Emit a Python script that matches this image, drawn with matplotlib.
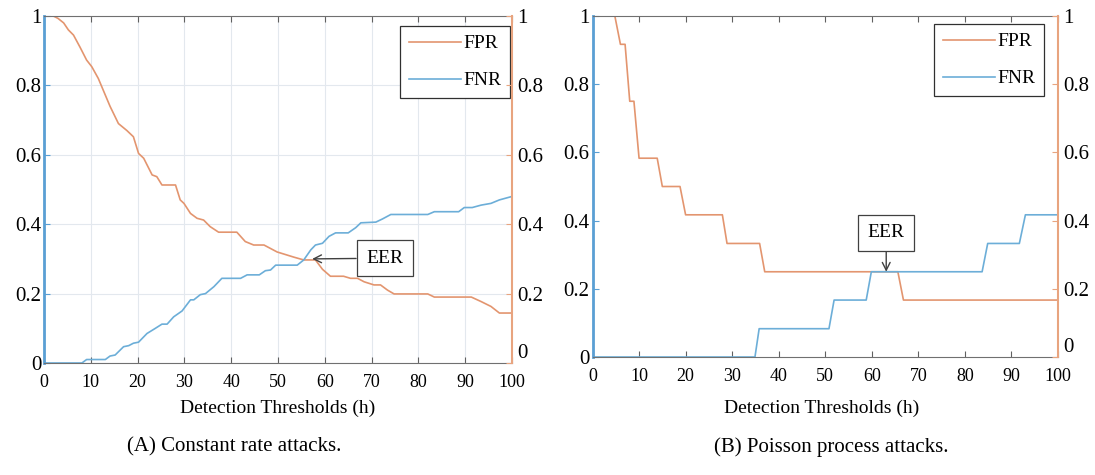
import matplotlib
matplotlib.use("Agg")
import matplotlib.pyplot as plt

plt.rcParams['font.family'] = ['Liberation Serif', 'DejaVu Serif']

# ---- data ----
thresholds_ticks = [0, 10, 20, 30, 40, 50, 60, 70, 80, 90, 100]
rate_ticks = [0, 0.2, 0.4, 0.6, 0.8, 1]
rate_labels = ['0', '0.2', '0.4', '0.6', '0.8', '1']

# (A) constant rate attacks
fpr_a_x = [0, 2, 3, 4.2, 5.2, 6.3, 7.7, 9.1, 10.2, 11.6,
           14.1, 15.9, 17.7, 19.1, 20.2, 21.3, 23.1, 24.1, 25.2, 28.1,
           29.1, 29.9, 31.3, 32.7, 34.1, 35.5, 37.3, 41.2, 43, 44.8,
           47, 48.4, 49.8, 51, 53.4, 55.5, 58, 59.5, 61.2, 64,
           65.5, 67, 68.4, 70.5, 71.9, 73.4, 74.8, 82, 83.4, 91.3,
           93.4, 95.5, 97.3, 100]
fpr_a_y = [1, 1, 0.993, 0.98, 0.96, 0.945, 0.91, 0.873, 0.854, 0.82,
           0.74, 0.69, 0.67, 0.652, 0.604, 0.59, 0.542, 0.537, 0.513, 0.513,
           0.47, 0.46, 0.431, 0.417, 0.412, 0.393, 0.377, 0.377, 0.35, 0.34,
           0.34, 0.33, 0.32, 0.315, 0.305, 0.297, 0.297, 0.27, 0.25, 0.25,
           0.244, 0.244, 0.234, 0.225, 0.225, 0.21, 0.199, 0.199, 0.19, 0.19,
           0.177, 0.163, 0.144, 0.144]
fnr_a_x = [0, 8.1, 9.1, 13.1, 14.1, 15.2, 17, 18.1, 19.1, 20.2,
           22, 23.8, 25.2, 26.3, 27.7, 29.5, 31.3, 32, 33.4, 34.5,
           36.3, 38, 42, 43.4, 46, 47.3, 48.4, 49.5, 54.1, 55.5,
           57, 58, 59.5, 60.9, 62.3, 65, 66.6, 67.7, 70.9, 72.3,
           74.1, 82, 83.4, 88.6, 89.8, 91.5, 93.4, 95.5, 97.3, 100]
fnr_a_y = [0, 0, 0.01, 0.01, 0.02, 0.023, 0.047, 0.05, 0.057, 0.06,
           0.085, 0.10, 0.112, 0.112, 0.133, 0.15, 0.182, 0.182, 0.197, 0.2,
           0.22, 0.244, 0.244, 0.254, 0.254, 0.266, 0.268, 0.282, 0.282, 0.297,
           0.326, 0.34, 0.345, 0.365, 0.375, 0.375, 0.39, 0.404, 0.406, 0.415,
           0.428, 0.428, 0.436, 0.436, 0.448, 0.448, 0.455, 0.46, 0.47, 0.48]
eer_a = (57.3, 0.30)

# (B) Poisson process attacks
fpr_b_x = [0, 4.8, 6, 7, 8, 8.9, 10, 13.9, 15, 18.8,
           20, 27.9, 28.9, 35.9, 37, 65.6, 66.8, 100]
fpr_b_y = [1, 1, 0.917, 0.917, 0.75, 0.75, 0.583, 0.583, 0.5, 0.5,
           0.417, 0.417, 0.333, 0.333, 0.25, 0.25, 0.167, 0.167]
fnr_b_x = [0, 34.9, 35.8, 50.8, 51.9, 58.8, 59.9, 83.7, 84.9, 91.7, 93, 100]
fnr_b_y = [0, 0, 0.083, 0.083, 0.167, 0.167, 0.25, 0.25, 0.333, 0.333, 0.417, 0.417]
eer_b = (63.1, 0.25)

FPR_COLOR = '#e3956f'
FNR_COLOR = '#6caed8'
LEFT_SPINE = '#5a9fd4'
RIGHT_SPINE = '#e8a47f'


def draw_panel(fig, rect, fpr_x, fpr_y, fnr_x, fnr_y, grid, eer_xy, eer_text_xy, legend_anchor):
    ax = fig.add_axes(rect)
    ax.plot(fpr_x, fpr_y, color=FPR_COLOR, lw=1.2, label='FPR')
    ax.plot(fnr_x, fnr_y, color=FNR_COLOR, lw=1.2, label='FNR')
    ax.set_xlim(0, 100)
    ax.set_ylim(0, 1)
    ax.set_xticks(thresholds_ticks)
    ax.set_yticks(rate_ticks)
    ax.set_yticklabels(rate_labels)
    ax.tick_params(axis='x', direction='in', top=True, length=4, labelsize=13,
                   color='#606060', pad=8)
    ax.tick_params(axis='y', direction='in', length=4, labelsize=15,
                   color=LEFT_SPINE, pad=2)
    if grid:
        ax.grid(True, color='#e3e8ee', lw=0.8)
    ax.spines['left'].set_color(LEFT_SPINE)
    ax.spines['left'].set_linewidth(2)
    ax.spines['right'].set_visible(False)
    ax.spines['top'].set_color('#707070')
    ax.spines['bottom'].set_color('#707070')

    ax2 = ax.twinx()
    ax2.set_ylim(0, 1)
    ax2.set_yticks(rate_ticks)
    ax2.set_yticklabels(rate_labels)
    ax2.tick_params(axis='y', direction='in', length=4, labelsize=15,
                    color=RIGHT_SPINE, pad=4)
    for side in ('left', 'top', 'bottom'):
        ax2.spines[side].set_visible(False)
    ax2.spines['right'].set_color(RIGHT_SPINE)
    ax2.spines['right'].set_linewidth(1.5)
    # lift the bottom "0" a little so it clears the "100" tick label
    ax2.get_yticklabels()[0].set_verticalalignment('bottom')

    leg = ax.legend(loc='upper right', bbox_to_anchor=legend_anchor,
                    bbox_transform=fig.transFigure, borderaxespad=0,
                    fancybox=False, edgecolor='#303030', fontsize=14,
                    handlelength=2.7, handletextpad=0.1, labelspacing=1.0,
                    borderpad=0.45, framealpha=1)
    leg.get_frame().set_linewidth(0.9)
    leg.set_zorder(10)

    ax.annotate('EER', xy=eer_xy, xytext=eer_text_xy, fontsize=14,
                ha='center', va='center', zorder=11,
                bbox=dict(boxstyle='square,pad=0.5', fc='white', ec='#404040', lw=0.9),
                arrowprops=dict(arrowstyle='->', color='#404040', lw=1.0,
                                shrinkA=0, shrinkB=0))
    return ax


fig = plt.figure(figsize=(10.95, 4.75), dpi=100)

draw_panel(fig, [0.0402, 0.2358, 0.4274, 0.7305], fpr_a_x, fpr_a_y, fnr_a_x, fnr_a_y,
           True, eer_a, (72.8, 0.302), (510 / 1095, 1 - 26 / 475))
draw_panel(fig, [0.5411, 0.2484, 0.4251, 0.7179], fpr_b_x, fpr_b_y, fnr_b_x, fnr_b_y,
           False, eer_b, (63.1, 0.364), (1044 / 1095, 1 - 24 / 475))

fig.text(278 / 1095, 1 - 408 / 475, 'Detection Thresholds (h)', fontsize=14,
         ha='center', va='center')
fig.text(822 / 1095, 1 - 408 / 475, 'Detection Thresholds (h)', fontsize=14,
         ha='center', va='center')
fig.text(234 / 1095, 1 - 447 / 475, '(A) Constant rate attacks.', fontsize=15,
         ha='center', va='center')
fig.text(831 / 1095, 1 - 447 / 475, '(B) Poisson process attacks.', fontsize=15,
         ha='center', va='center')

fig.savefig('out.png', dpi=100)
